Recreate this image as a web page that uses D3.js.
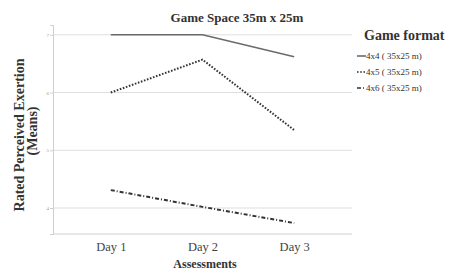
<!DOCTYPE html>
<html>
<head>
<meta charset="utf-8">
<script src="https://cdn.jsdelivr.net/npm/d3@7"></script>
<style>
  body { margin: 0; background: #fff; overflow: hidden; }
  text { font-family: "Liberation Serif", "DejaVu Serif", serif; }
</style>
</head>
<body>
<script>
const days = ['Day 1', 'Day 2', 'Day 3'];
const formats = ['4x4 ( 35x25 m)', '4x5 ( 35x25 m)', '4x6 ( 35x25 m)'];
const rpe4x4 = [7.0, 7.0, 6.62];
const rpe4x5 = [6.0, 6.57, 5.35];
const rpe4x6 = [4.31, 4.02, 3.74];
const yTicks = [4, 5, 6, 7];

const series = [
  {name: formats[0], values: rpe4x4, dash: null, color: '#6a6a6a', w: 1.6},
  {name: formats[1], values: rpe4x5, dash: '1.6,1.6', color: '#333', w: 2},
  {name: formats[2], values: rpe4x6, dash: '4,2,1,2', color: '#333', w: 2}
];

const svg = d3.select('body').append('svg')
  .attr('width', 454)
  .attr('height', 273);

const x = d3.scalePoint().domain(days).range([53, 352]).padding(0.63);
const y = d3.scaleLinear().domain([3.55, 7.17]).range([234, 25]);

// gridlines
svg.append('g')
  .selectAll('line')
  .data(yTicks)
  .join('line')
  .attr('x1', 53).attr('x2', 352)
  .attr('y1', (d) => y(d)).attr('y2', (d) => y(d))
  .attr('stroke', '#dedede').attr('stroke-width', 1);

// axes
const yAxis = svg.append('g')
  .attr('transform', 'translate(53,0)')
  .call(d3.axisLeft(y).tickValues(yTicks).tickSize(3).tickFormat(d3.format('d')));
yAxis.select('.domain').attr('stroke', '#cfcfcf');
yAxis.selectAll('.tick line').attr('stroke', '#cfcfcf');
yAxis.selectAll('text').attr('font-size', 5).attr('fill', '#999').attr('x', -4);

const xAxis = svg.append('g')
  .attr('transform', 'translate(0,234)')
  .call(d3.axisBottom(x).tickSize(0).tickPadding(8));
xAxis.select('.domain').attr('stroke', '#cfcfcf').attr('d', 'M53,0H352');
xAxis.selectAll('text').attr('font-size', 12.5).attr('fill', '#444');

// lines
const line = d3.line().x((d, i) => x(days[i])).y((d) => y(d));
svg.append('g')
  .selectAll('path')
  .data(series)
  .join('path')
  .attr('d', (d) => line(d.values))
  .attr('fill', 'none')
  .attr('stroke', (d) => d.color)
  .attr('stroke-width', (d) => d.w)
  .attr('stroke-dasharray', (d) => d.dash);

// title
svg.append('text')
  .attr('x', 237).attr('y', 22)
  .attr('text-anchor', 'middle')
  .attr('font-size', 13).attr('font-weight', 'bold').attr('fill', '#333')
  .text('Game Space 35m x 25m');

// axis titles
svg.append('text')
  .attr('transform', 'translate(24,135) rotate(-90)')
  .attr('text-anchor', 'middle')
  .attr('font-size', 14).attr('font-weight', 'bold').attr('fill', '#333')
  .text('Rated Perceived Exertion');
svg.append('text')
  .attr('transform', 'translate(37,131) rotate(-90)')
  .attr('text-anchor', 'middle')
  .attr('font-size', 14).attr('font-weight', 'bold').attr('fill', '#333')
  .text('(Means)');
svg.append('text')
  .attr('x', 205).attr('y', 268)
  .attr('text-anchor', 'middle')
  .attr('font-size', 12).attr('font-weight', 'bold').attr('fill', '#333')
  .text('Assessments');

// legend
svg.append('text')
  .attr('x', 364).attr('y', 40)
  .attr('font-size', 14).attr('font-weight', 'bold').attr('fill', '#333')
  .text('Game format');
const leg = svg.append('g')
  .selectAll('g')
  .data(series)
  .join('g')
  .attr('transform', (d, i) => `translate(357,${56 + i * 16})`);
leg.append('line')
  .attr('x1', 0).attr('x2', 9).attr('y1', 0).attr('y2', 0)
  .attr('stroke', (d) => d.color)
  .attr('stroke-width', 1.6)
  .attr('stroke-dasharray', (d) => d.dash);
leg.append('text')
  .attr('x', 9).attr('y', 3)
  .attr('font-size', 9).attr('fill', '#333')
  .text((d) => d.name);
</script>
</body>
</html>
